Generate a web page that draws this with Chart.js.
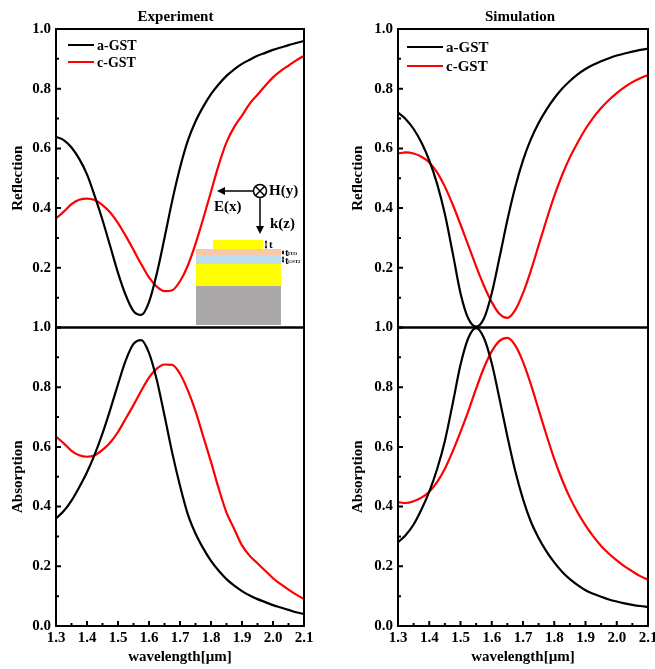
<!DOCTYPE html>
<html>
<head>
<meta charset="utf-8">
<title>Reflection and absorption spectra</title>
<script src="https://cdn.jsdelivr.net/npm/chart.js@4/dist/chart.umd.min.js"></script>
<style>
    html, body { margin: 0; padding: 0; background: #fff; width: 655px; height: 669px; overflow: hidden; }
    canvas { position: absolute; top: 0; }
    #expChart { left: 0; }
    #simChart { left: 340px; }
</style>
</head>
<body>
<canvas id="expChart"></canvas>
<canvas id="simChart"></canvas>
<script>
// --- Data ---
const wavelength = [1.30, 1.325, 1.35, 1.375, 1.40, 1.425, 1.45, 1.475, 1.50, 1.525, 1.55, 1.575, 1.60, 1.625, 1.65, 1.675, 1.70,
    1.725, 1.75, 1.775, 1.80, 1.825, 1.85, 1.875, 1.90, 1.925, 1.95, 1.975, 2.00, 2.025, 2.05, 2.075, 2.10];

const expReflectionA = [.639, .628, .603, .565, .513, .44, .36, .272, .183, .108, .055, .042, .085, .18, .30, .425, .535,
    .625, .69, .74, .782, .815, .843, .865, .883, .897, .91, .92, .93, .938, .946, .953, .96];
const expReflectionC = [.365, .388, .413, .428, .432, .427, .41, .385, .35, .307, .26, .212, .168, .137, .122, .125, .155,
    .207, .28, .365, .455, .545, .62, .672, .71, .75, .78, .81, .838, .86, .877, .895, .91];
const expAbsorptionA = [.36, .385, .42, .465, .515, .575, .645, .725, .81, .89, .945, .958, .915, .825, .705, .58, .47,
    .375, .31, .26, .218, .185, .157, .135, .117, .102, .09, .08, .07, .062, .054, .046, .04];
const expAbsorptionC = [.635, .612, .587, .572, .567, .572, .59, .615, .65, .695, .74, .788, .832, .862, .876, .875, .845,
    .79, .72, .635, .55, .46, .38, .325, .27, .235, .21, .185, .16, .14, .122, .105, .09];

const simReflectionA = [.72, .698, .665, .62, .56, .482, .38, .25, .115, .03, .003, .03, .115, .235, .36, .47, .56,
    .63, .685, .73, .768, .80, .826, .848, .866, .88, .892, .902, .911, .918, .924, .93, .934];
const simReflectionC = [.583, .587, .583, .572, .553, .52, .472, .412, .345, .275, .205, .14, .085, .045, .032, .058, .115,
    .19, .275, .36, .44, .51, .57, .62, .665, .703, .735, .762, .785, .805, .822, .835, .846];
const simAbsorptionA = [.28, .305, .34, .39, .45, .525, .62, .745, .875, .965, .998, .965, .88, .76, .635, .52, .425,
    .35, .295, .25, .213, .182, .157, .137, .12, .108, .098, .089, .082, .076, .071, .067, .064];
const simAbsorptionC = [.415, .412, .418, .43, .45, .482, .527, .585, .65, .72, .795, .865, .92, .955, .965, .94, .885,
    .81, .725, .64, .56, .49, .43, .38, .337, .30, .268, .242, .22, .20, .183, .167, .155];

const seriesNames = ['a-GST', 'c-GST'];
const seriesColors = ['#000000', '#ff0000'];
const xTicksMinor = [1.35, 1.45, 1.55, 1.65, 1.75, 1.85, 1.95, 2.05];
const yTicksMinor = [.1, .3, .5, .7, .9];

const SERIF = '"Liberation Serif", "Times New Roman", serif';

// --- Frame, inward ticks and the legend inside the plot ---
const panelDeco = {
    id: 'panelDeco',
    afterDatasetsDraw(chart, args, opts) {
        const ctx = chart.ctx;
        const x = chart.scales.x;
        ctx.save();
        ctx.strokeStyle = '#000';
        ctx.fillStyle = '#000';
        ctx.lineWidth = 2;

        for (const id of ['yRef', 'yAbs']) {
            const y = chart.scales[id];
            ctx.strokeRect(x.left, y.top, x.right - x.left, y.bottom - y.top);
            ctx.beginPath();
            y.ticks.forEach(t => {
                ctx.moveTo(x.left, y.getPixelForValue(t.value));
                ctx.lineTo(x.left + 5, y.getPixelForValue(t.value));
            });
            yTicksMinor.forEach(v => {
                ctx.moveTo(x.left, y.getPixelForValue(v));
                ctx.lineTo(x.left + 3, y.getPixelForValue(v));
            });
            ctx.stroke();
        }

        // x ticks only on the lower panel
        const yAbs = chart.scales.yAbs;
        ctx.beginPath();
        x.ticks.forEach(t => {
            ctx.moveTo(x.getPixelForValue(t.value), yAbs.bottom);
            ctx.lineTo(x.getPixelForValue(t.value), yAbs.bottom - 5);
        });
        xTicksMinor.forEach(v => {
            ctx.moveTo(x.getPixelForValue(v), yAbs.bottom);
            ctx.lineTo(x.getPixelForValue(v), yAbs.bottom - 3);
        });
        ctx.stroke();

        // legend
        ctx.font = 'bold ' + opts.legendFont + 'px ' + SERIF;
        ctx.textBaseline = 'middle';
        seriesNames.forEach((name, i) => {
            const ly = opts.legendY[i];
            ctx.strokeStyle = seriesColors[i];
            ctx.beginPath();
            ctx.moveTo(opts.legendX[0], ly);
            ctx.lineTo(opts.legendX[1], ly);
            ctx.stroke();
            ctx.fillStyle = '#000';
            ctx.fillText(name, opts.legendX[1] + 3, ly + 1);
        });
        ctx.restore();
    },
    afterLayout(chart, args, opts) {
        // title sits a little left of the plot centre
        chart.titleBlock.left += opts.titleShift;
        chart.titleBlock.right += opts.titleShift;
    }
};

// --- Structure sketch in the Experiment panel ---
function arrowHead(ctx, x, y, dx, dy, size) {
    ctx.beginPath();
    ctx.moveTo(x, y);
    ctx.lineTo(x - dx * size + dy * size / 2, y - dy * size + dx * size / 2);
    ctx.lineTo(x - dx * size - dy * size / 2, y - dy * size - dx * size / 2);
    ctx.closePath();
    ctx.fill();
}

function doubleArrow(ctx, x, top, bottom) {
    ctx.beginPath();
    ctx.moveTo(x, top + 1);
    ctx.lineTo(x, bottom - 1);
    ctx.stroke();
    arrowHead(ctx, x, top, 0, -1, 2.5);
    arrowHead(ctx, x, bottom, 0, 1, 2.5);
}

const insetSketch = {
    id: 'insetSketch',
    afterDraw(chart) {
        const ctx = chart.ctx;
        ctx.save();
        ctx.fillStyle = '#aaa8a8';
        ctx.fillRect(196, 286, 85, 39);
        ctx.fillStyle = '#ffff00';
        ctx.fillRect(196, 264, 85, 22);
        ctx.fillRect(213, 240, 50, 9);
        ctx.fillStyle = '#bcdcf0';
        ctx.fillRect(196, 255, 85, 9);
        ctx.fillStyle = '#f8c8a8';
        ctx.fillRect(196, 249, 85, 6);

        ctx.strokeStyle = '#000';
        ctx.fillStyle = '#000';
        ctx.lineWidth = 1.5;
        ctx.beginPath();
        ctx.arc(260, 191, 6.5, 0, Math.PI * 2);
        ctx.moveTo(255.5, 186.5);
        ctx.lineTo(264.5, 195.5);
        ctx.moveTo(264.5, 186.5);
        ctx.lineTo(255.5, 195.5);
        ctx.moveTo(253, 191);
        ctx.lineTo(224, 191);
        ctx.moveTo(260, 198);
        ctx.lineTo(260, 226);
        ctx.stroke();
        arrowHead(ctx, 217, 191, -1, 0, 8);
        arrowHead(ctx, 260, 234, 0, 1, 8);

        // thickness markers
        ctx.lineWidth = 1;
        doubleArrow(ctx, 266, 240, 249);
        doubleArrow(ctx, 283, 250, 255);
        doubleArrow(ctx, 283, 256, 263);

        ctx.textBaseline = 'middle';
        ctx.font = 'bold 15px ' + SERIF;
        ctx.fillText('H(y)', 269, 191);
        ctx.fillText('E(x)', 214, 207);
        ctx.fillText('k(z)', 270, 224);
        ctx.font = 'bold 11px ' + SERIF;
        ctx.fillText('t', 269, 245);
        ctx.fillText('t', 285, 253);
        ctx.fillText('t', 285, 261);
        ctx.font = 'bold 5px ' + SERIF;
        ctx.fillText('ITO', 288, 254);
        ctx.fillText('GST2', 288, 262);
        ctx.restore();
    }
};

// --- Chart builder: one canvas per column, two stacked y axes ---
function makeSeries(values, i, axisId) {
    return {
        label: seriesNames[i],
        data: values.map((v, k) => ({ x: wavelength[k], y: v })),
        borderColor: seriesColors[i],
        backgroundColor: 'transparent',
        borderWidth: 2.2,
        pointRadius: 0,
        cubicInterpolationMode: 'monotone',
        yAxisID: axisId
    };
}

function yAxis(titleText, axisWidth, stackOrder, hideZero) {
    return {
        type: 'linear',
        position: 'left',
        stack: 'column',
        stackWeight: 1,
        weight: stackOrder,
        min: 0,
        max: 1,
        grid: { display: false, drawTicks: false },
        border: { display: false },
        ticks: {
            stepSize: 0.2,
            padding: 5,
            color: '#000',
            font: { family: SERIF, size: 15, weight: 'bold' },
            callback: v => (hideZero && v === 0) ? '' : v.toFixed(1)
        },
        title: {
            display: true,
            text: titleText,
            color: '#000',
            padding: { top: 9, bottom: 0 },
            font: { family: SERIF, size: 15, weight: 'bold' }
        },
        afterFit: s => {
            s.width = axisWidth;
            s.paddingTop = 0;
            s.paddingBottom = 0;
        }
    };
}

function drawColumn(canvasId, width, cfg) {
    const canvas = document.getElementById(canvasId);
    canvas.style.width = width + 'px';
    canvas.style.height = '669px';
    canvas.width = width;
    canvas.height = 669;

    return new Chart(canvas.getContext('2d'), {
        type: 'line',
        data: {
            datasets: [
                makeSeries(cfg.reflection[0], 0, 'yRef'),
                makeSeries(cfg.reflection[1], 1, 'yRef'),
                makeSeries(cfg.absorption[0], 0, 'yAbs'),
                makeSeries(cfg.absorption[1], 1, 'yAbs')
            ]
        },
        options: {
            responsive: false,
            animation: false,
            layout: { padding: { left: 0, right: cfg.rightPad, top: 0, bottom: 0 } },
            scales: {
                x: {
                    type: 'linear',
                    min: 1.3,
                    max: 2.1,
                    grid: { display: false, drawTicks: false },
                    border: { display: false },
                    ticks: {
                        stepSize: 0.1,
                        padding: 3,
                        maxRotation: 0,
                        autoSkip: false,
                        color: '#000',
                        font: { family: SERIF, size: 15, weight: 'bold' },
                        callback: v => v.toFixed(1)
                    },
                    title: {
                        display: true,
                        text: 'wavelength[µm]',
                        color: '#000',
                        padding: { top: 0, bottom: 3 },
                        font: { family: SERIF, size: 15, weight: 'bold' }
                    },
                    afterFit: s => {
                        s.height = 43;
                        s.paddingLeft = 0;
                        s.paddingRight = 0;
                    }
                },
                yRef: yAxis('Reflection', cfg.axisWidth, 2, true),
                yAbs: yAxis('Absorption', cfg.axisWidth, 1, false)
            },
            plugins: {
                legend: { display: false },
                tooltip: { enabled: false },
                title: {
                    display: true,
                    text: cfg.title,
                    fullSize: false,
                    color: '#000',
                    padding: { top: 8, bottom: 3 },
                    font: { family: SERIF, size: 15, weight: 'bold' }
                },
                panelDeco: {
                    titleShift: cfg.titleShift,
                    legendX: cfg.legendX,
                    legendY: cfg.legendY,
                    legendFont: cfg.legendFont
                }
            }
        },
        plugins: cfg.sketch ? [panelDeco, insetSketch] : [panelDeco]
    });
}

document.addEventListener('DOMContentLoaded', () => {
    drawColumn('expChart', 325, {
        title: 'Experiment',
        reflection: [expReflectionA, expReflectionC],
        absorption: [expAbsorptionA, expAbsorptionC],
        axisWidth: 56,
        rightPad: 21,
        titleShift: -4.5,
        legendX: [68, 94],
        legendY: [45, 62],
        legendFont: 14,
        sketch: true
    });
    drawColumn('simChart', 315, {
        title: 'Simulation',
        reflection: [simReflectionA, simReflectionC],
        absorption: [simAbsorptionA, simAbsorptionC],
        axisWidth: 58,
        rightPad: 7,
        titleShift: -3,
        legendX: [67, 103],
        legendY: [47, 66],
        legendFont: 15,
        sketch: false
    });
});
</script>
</body>
</html>
